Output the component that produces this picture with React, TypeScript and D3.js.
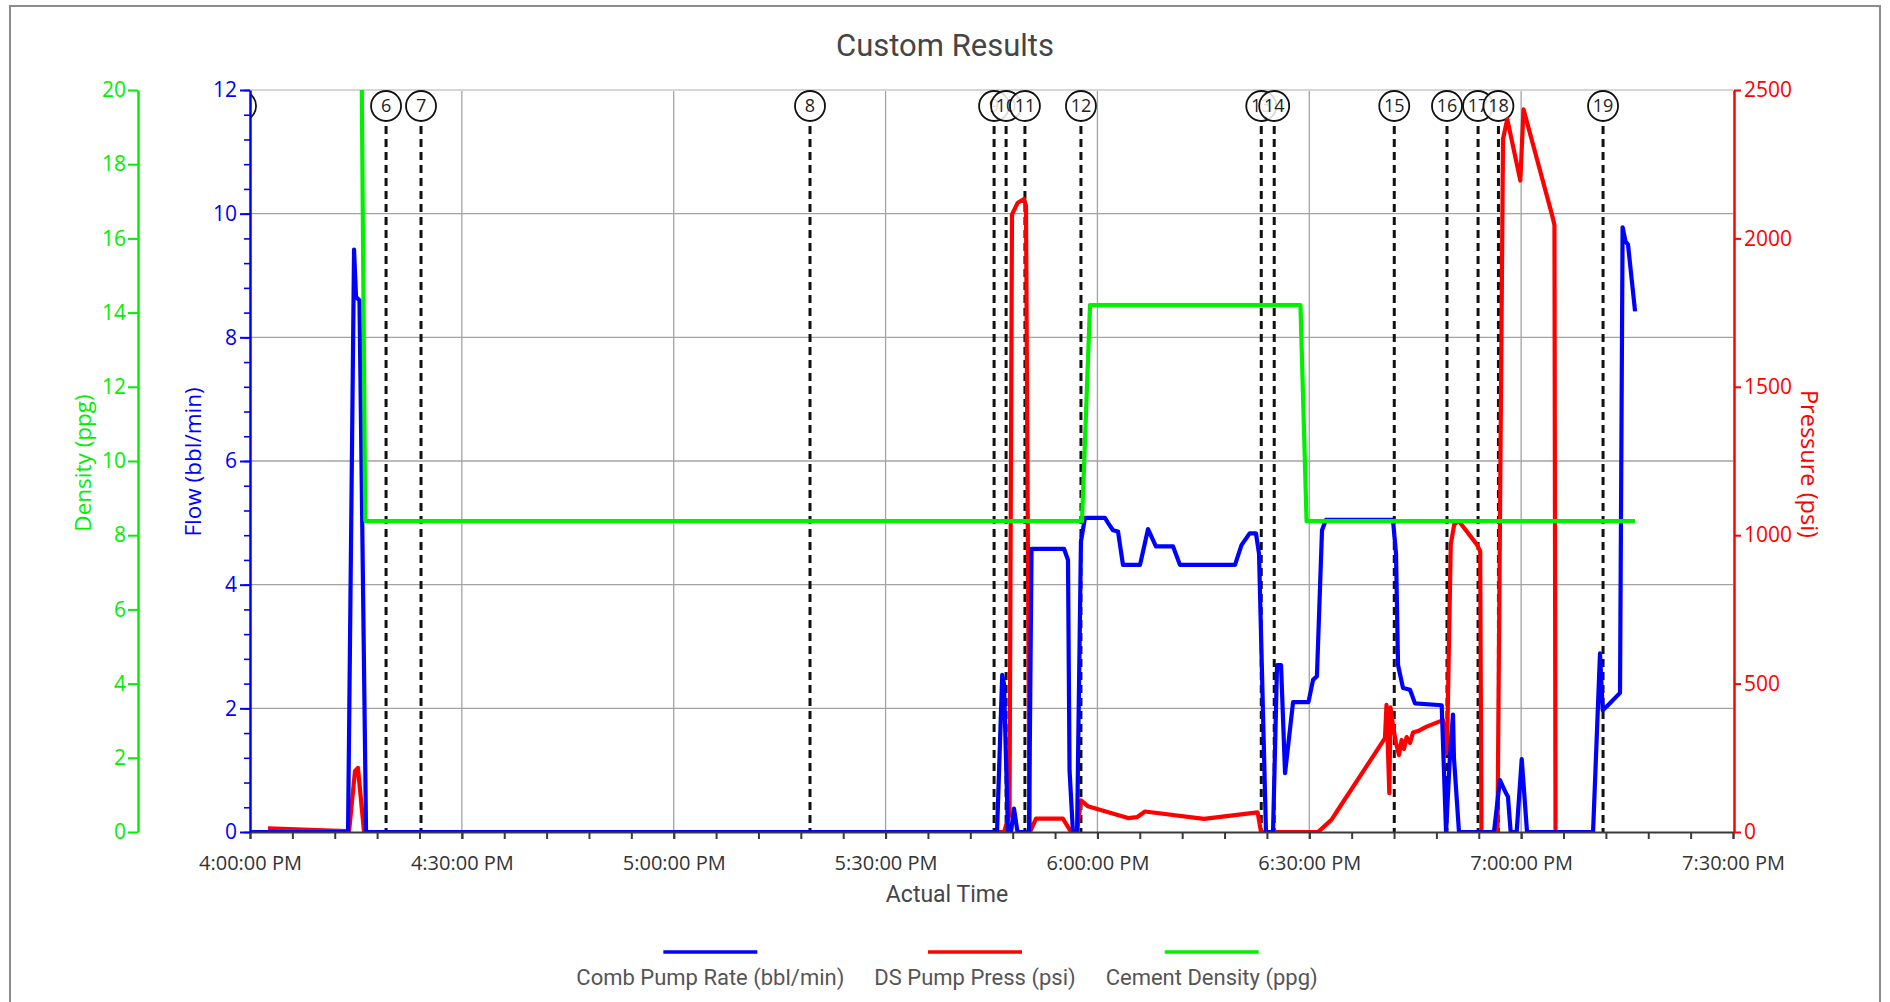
import React, { useEffect, useRef } from 'react';
import * as d3 from 'd3';

// Comb Pump Rate (bbl/min)
const combPumpRate: [string, number][] = [
  ['16:00:00', 0], ['16:13:53', 0], ['16:14:44', 9.42], ['16:15:01', 8.65], ['16:15:30', 8.6], ['16:16:26', 0],
  ['17:45:47', 0], ['17:46:31', 2.54], ['17:46:46', 2.4], ['17:47:20', 0], ['17:47:46', 0], ['17:48:11', 0.38],
  ['17:48:41', 0], ['17:50:19', 0], ['17:50:40', 4.58], ['17:55:16', 4.58], ['17:55:50', 4.4], ['17:56:03', 1.0],
  ['17:56:32', 0], ['17:57:07', 0], ['17:57:40', 4.7], ['17:58:14', 5.08], ['18:01:04', 5.08], ['18:01:30', 5.0],
  ['18:02:12', 4.88], ['18:02:55', 4.86], ['18:03:37', 4.32], ['18:06:02', 4.32], ['18:07:10', 4.9], ['18:08:17', 4.62],
  ['18:10:42', 4.62], ['18:11:41', 4.32], ['18:19:29', 4.32], ['18:20:24', 4.64], ['18:21:33', 4.83], ['18:22:27', 4.83],
  ['18:22:53', 4.5], ['18:23:52', 0], ['18:24:52', 0], ['18:25:26', 2.7], ['18:26:00', 2.7], ['18:26:34', 0.95],
  ['18:27:42', 2.1], ['18:29:53', 2.1], ['18:30:32', 2.46], ['18:31:05', 2.52], ['18:31:48', 4.88], ['18:32:22', 5.05],
  ['18:41:51', 5.05], ['18:42:17', 4.5], ['18:42:34', 2.7], ['18:43:16', 2.33], ['18:44:16', 2.3], ['18:44:58', 2.08],
  ['18:48:45', 2.05], ['18:49:22', 0], ['18:49:56', 1.27], ['18:50:21', 1.9], ['18:50:29', 1.2], ['18:51:12', 0],
  ['18:56:09', 0], ['18:57:00', 0.84], ['18:57:51', 0.63], ['18:58:08', 0.57], ['18:58:31', 0], ['18:59:22', 0],
  ['19:00:05', 1.18], ['19:00:50', 0], ['19:10:11', 0], ['19:11:10', 2.89], ['19:11:33', 1.97], ['19:12:07', 2.03],
  ['19:14:00', 2.25], ['19:14:22', 9.78], ['19:14:47', 9.55], ['19:15:08', 9.5], ['19:16:08', 8.42],
];

// DS Pump Press (psi)
const dsPumpPress: [string, number][] = [
  ['16:02:33', 12], ['16:13:36', 3], ['16:14:01', 0], ['16:14:52', 205], ['16:15:17', 216], ['16:16:09', 0],
  ['17:46:46', 0], ['17:47:33', 60], ['17:47:54', 2080], ['17:48:41', 2119], ['17:49:36', 2133], ['17:49:53', 2110],
  ['17:50:23', 0], ['17:50:27', 0], ['17:51:18', 45], ['17:55:07', 45], ['17:56:16', 0], ['17:57:06', 0],
  ['17:57:40', 107], ['17:58:38', 87], ['18:04:20', 47], ['18:05:36', 50], ['18:06:44', 69], ['18:15:05', 44],
  ['18:22:41', 66], ['18:23:10', 0], ['18:31:14', 0], ['18:33:08', 41], ['18:34:04', 75], ['18:40:43', 316],
  ['18:40:56', 428], ['18:41:20', 131], ['18:41:30', 420], ['18:41:54', 350], ['18:42:17', 300], ['18:42:42', 259],
  ['18:43:05', 310], ['18:43:25', 280], ['18:43:47', 320], ['18:44:16', 300], ['18:44:41', 335], ['18:45:24', 340],
  ['18:46:37', 355], ['18:48:56', 377], ['18:49:30', 266], ['18:50:02', 969], ['18:50:32', 1037], ['18:51:10', 1048],
  ['18:53:43', 969], ['18:54:12', 946], ['18:54:23', 0], ['18:56:39', 0], ['18:57:26', 2335], ['18:58:02', 2402],
  ['18:59:53', 2195], ['19:00:20', 2435], ['19:04:22', 2080], ['19:04:43', 2045], ['19:04:52', 0], ['19:10:19', 0],
];

// Cement Density (ppg)
const cementDensity: [string, number][] = [
  ['16:15:40', 24], ['16:16:19', 8.38], ['17:57:49', 8.38], ['17:58:57', 14.2],
  ['18:28:45', 14.2], ['18:29:37', 8.38], ['19:16:08', 8.38],
];

const eventLabels = ['5', '6', '7', '8', '9', '10', '11', '12', '13', '14', '15', '16', '17', '18', '19'];
const eventTimes = [
  '15:58:44', '16:19:16', '16:24:13', '17:19:18', '17:45:22', '17:47:04', '17:49:44', '17:57:40',
  '18:23:12', '18:25:02', '18:42:02', '18:49:30', '18:53:54', '18:56:47', '19:11:36',
];

const flowTicks = [0, 2, 4, 6, 8, 10, 12];
const densityTicks = [0, 2, 4, 6, 8, 10, 12, 14, 16, 18, 20];
const pressureTicks = [0, 500, 1000, 1500, 2000, 2500];
const timeTicks = ['16:00:00', '16:30:00', '17:00:00', '17:30:00', '18:00:00', '18:30:00', '19:00:00', '19:30:00'];
const legendLabels = ['Comb Pump Rate (bbl/min)', 'DS Pump Press (psi)', 'Cement Density (ppg)'];

const BLUE = '#0000ff';
const RED = '#ff0000';
const GREEN = '#00f000';
const W = 1890;
const H = 1002;

function App() {
  const svgRef = useRef<SVGSVGElement>(null);

  useEffect(() => {
    const svg = d3.select(svgRef.current);
    svg.selectAll('*').remove();

    const left = 250, right = 1733, top = 90, bottom = 832;
    const parse = d3.timeParse('%H:%M:%S');
    const x = d3.scaleTime().domain([parse('16:00:00'), parse('19:30:00')]).range([left, right]);
    const yFlow = d3.scaleLinear().domain([0, 12]).range([bottom, top]);
    const yDens = d3.scaleLinear().domain([0, 20]).range([bottom, top]);
    const yPress = d3.scaleLinear().domain([0, 2500]).range([bottom, top]);

    const tickFont = "'Open Sans', sans-serif";
    const labelFont = "Roboto, sans-serif";

    // frame
    svg.append('rect').attr('x', 10).attr('y', 6).attr('width', 1870).attr('height', 1010)
      .attr('fill', 'white').attr('stroke', '#8c8c8c').attr('stroke-width', 2);

    svg.append('text').attr('x', 945).attr('y', 56).attr('text-anchor', 'middle')
      .attr('font-family', labelFont).attr('font-size', 31).attr('fill', '#454545')
      .text('Custom Results');

    svg.append('defs').append('clipPath').attr('id', 'plot-clip')
      .append('rect').attr('x', left).attr('y', top).attr('width', right - left).attr('height', bottom - top);

    // grid
    const grid = svg.append('g');
    grid.selectAll('line.v').data(timeTicks.slice(1, -1)).join('line')
      .attr('x1', d => x(parse(d))).attr('x2', d => x(parse(d)))
      .attr('y1', top).attr('y2', bottom).attr('stroke', '#a3a3a3').attr('stroke-width', 1.3);
    grid.selectAll('line.h').data(flowTicks.slice(1, -1)).join('line')
      .attr('x1', left).attr('x2', right)
      .attr('y1', d => yFlow(d)).attr('y2', d => yFlow(d)).attr('stroke', '#a3a3a3').attr('stroke-width', 1.3);
    grid.append('line').attr('x1', left).attr('x2', right).attr('y1', top).attr('y2', top)
      .attr('stroke', '#d6d6d6').attr('stroke-width', 2);

    // event markers
    const ev = svg.append('g').attr('clip-path', 'url(#plot-clip)');
    const evData = eventLabels.map((label, i) => ({ label, t: parse(eventTimes[i]) }));
    ev.selectAll('line').data(evData).join('line')
      .attr('x1', d => x(d.t)).attr('x2', d => x(d.t))
      .attr('y1', 126).attr('y2', bottom)
      .attr('stroke', '#111').attr('stroke-width', 3).attr('stroke-dasharray', '8,5');

    // series
    const series = svg.append('g').attr('clip-path', 'url(#plot-clip)');
    const drawLine = (data: [string, number][], y: d3.ScaleLinear<number, number>, color: string) => {
      const line = d3.line<[string, number]>()
        .x(d => x(parse(d[0])))
        .y(d => y(d[1]));
      series.append('path').datum(data)
        .attr('fill', 'none').attr('stroke', color).attr('stroke-width', 4.2)
        .attr('stroke-linejoin', 'round').attr('d', line);
    };
    drawLine(dsPumpPress, yPress, RED);
    drawLine(combPumpRate, yFlow, BLUE);
    drawLine(cementDensity, yDens, GREEN);

    // event circles on top
    const evc = ev.selectAll('g.ev').data(evData).join('g')
      .attr('transform', d => `translate(${x(d.t)},106)`);
    evc.append('ellipse').attr('rx', 15).attr('ry', 15)
      .attr('fill', 'white').attr('fill-opacity', 0.85).attr('stroke', '#111').attr('stroke-width', 1.8);
    evc.append('text').attr('text-anchor', 'middle').attr('dy', '0.36em')
      .attr('font-family', tickFont).attr('font-size', 18).attr('fill', '#222')
      .text(d => d.label);

    // x axis
    const minorTimes = x.ticks(d3.timeMinute.every(6));
    const xMinor = svg.append('g').attr('transform', `translate(0,${bottom})`)
      .call(d3.axisBottom(x).tickValues(minorTimes).tickSize(7).tickSizeOuter(0).tickFormat(() => ''));
    xMinor.select('.domain').attr('stroke', '#3a3a3a').attr('stroke-width', 2);
    xMinor.selectAll('.tick line').attr('stroke', '#3a3a3a').attr('stroke-width', 2);

    const xMajor = svg.append('g').attr('transform', `translate(0,${bottom})`)
      .call(d3.axisBottom(x).tickValues(timeTicks.map(t => parse(t))).tickSize(7).tickSizeOuter(0)
        .tickPadding(17).tickFormat(d3.timeFormat('%-I:%M:%S %p')));
    xMajor.select('.domain').remove();
    xMajor.selectAll('.tick line').attr('stroke', '#3a3a3a').attr('stroke-width', 2);
    xMajor.selectAll('text').attr('font-family', tickFont).attr('font-size', 20).attr('fill', '#333');

    svg.append('text').attr('x', 947).attr('y', 902).attr('text-anchor', 'middle')
      .attr('font-family', labelFont).attr('font-size', 23).attr('fill', '#454545')
      .text('Actual Time');

    // blue flow axis
    const flowMinor = svg.append('g').attr('transform', `translate(${left},0)`)
      .call(d3.axisLeft(yFlow).tickValues(d3.range(0, 12.01, 0.4)).tickSize(6).tickSizeOuter(0).tickFormat(() => ''));
    flowMinor.select('.domain').attr('stroke', BLUE).attr('stroke-width', 2.5);
    flowMinor.selectAll('.tick line').attr('stroke', BLUE).attr('stroke-width', 1.6);

    const flowAxis = svg.append('g').attr('transform', `translate(${left},0)`)
      .call(d3.axisLeft(yFlow).tickValues(flowTicks).tickSize(10).tickSizeOuter(0).tickPadding(3));
    flowAxis.select('.domain').remove();
    flowAxis.selectAll('.tick line').attr('stroke', BLUE).attr('stroke-width', 2);
    flowAxis.selectAll('text').attr('font-family', tickFont).attr('font-size', 21).attr('fill', BLUE);

    svg.append('text').attr('transform', 'translate(201,462) rotate(-90)').attr('text-anchor', 'middle')
      .attr('font-family', tickFont).attr('font-size', 22.5).attr('fill', BLUE)
      .text('Flow (bbl/min)');

    // green density axis
    const densAxis = svg.append('g').attr('transform', 'translate(138,0)')
      .call(d3.axisLeft(yDens).tickValues(densityTicks).tickSize(10).tickSizeOuter(0).tickPadding(2));
    densAxis.select('.domain').attr('stroke', GREEN).attr('stroke-width', 2.5);
    densAxis.selectAll('.tick line').attr('stroke', GREEN).attr('stroke-width', 2);
    densAxis.selectAll('text').attr('font-family', tickFont).attr('font-size', 21).attr('fill', GREEN);

    svg.append('text').attr('transform', 'translate(91,463) rotate(-90)').attr('text-anchor', 'middle')
      .attr('font-family', tickFont).attr('font-size', 22.5).attr('fill', GREEN)
      .text('Density (ppg)');

    // red pressure axis
    const pressAxis = svg.append('g').attr('transform', `translate(${right + 1},0)`)
      .call(d3.axisRight(yPress).tickValues(pressureTicks).tickSize(7).tickSizeOuter(0).tickPadding(3)
        .tickFormat(d3.format('d')));
    pressAxis.select('.domain').attr('stroke', RED).attr('stroke-width', 2.5);
    pressAxis.selectAll('.tick line').attr('stroke', RED).attr('stroke-width', 2);
    pressAxis.selectAll('text').attr('font-family', tickFont).attr('font-size', 21).attr('fill', RED);

    svg.append('text').attr('transform', 'translate(1801,464) rotate(90)').attr('text-anchor', 'middle')
      .attr('font-family', tickFont).attr('font-size', 23.5).attr('fill', RED)
      .text('Pressure (psi)');

    // legend
    const colors = [BLUE, RED, GREEN];
    const legend = svg.append('g');
    const items = legend.selectAll('g').data(legendLabels).join('g');
    const texts = items.append('text').attr('y', 985).attr('text-anchor', 'middle')
      .attr('font-family', labelFont).attr('font-size', 22).attr('fill', '#555')
      .text(d => d);
    const widths = texts.nodes().map(n => (n as SVGTextElement).getComputedTextLength());
    const gap = 30;
    const total = d3.sum(widths) + gap * (widths.length - 1);
    let cursor = 947 - total / 2;
    const centers = widths.map(w => { const c = cursor + w / 2; cursor += w + gap; return c; });
    texts.attr('x', (_, i) => centers[i]);
    items.append('line')
      .attr('x1', (_, i) => centers[i] - 47).attr('x2', (_, i) => centers[i] + 47)
      .attr('y1', 952).attr('y2', 952)
      .attr('stroke', (_, i) => colors[i]).attr('stroke-width', 3.5);
  }, []);

  return (
    <div style={{ position: 'fixed', left: 0, top: 0 }}>
      <svg ref={svgRef} width={W} height={H}></svg>
    </div>
  );
}

export default App;
